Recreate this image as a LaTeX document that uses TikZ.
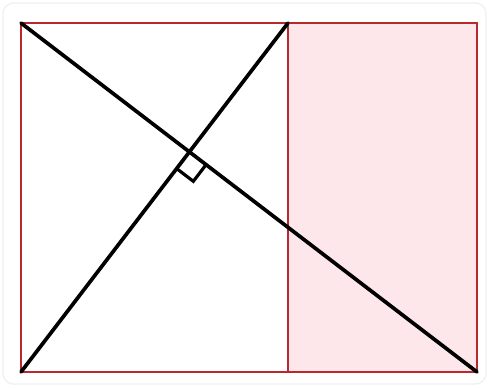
\documentclass[tikz,border=0pt]{standalone}
\usepackage{xcolor}
\usetikzlibrary{calc,intersections}
\definecolor{edgered}{HTML}{B8282E}
\definecolor{pinkfill}{HTML}{FDE7EA}

\begin{document}
\begin{tikzpicture}[
  x=0.02cm,y=0.02cm,
  frame/.style={draw=edgered,line width=1.3pt},
  diag/.style={draw=black,line width=2.1pt,line cap=round},
  anglemark/.style={draw=black,line width=1.8pt}
]
\useasboundingbox (0,0) rectangle (489,387);
\draw[gray!12,line width=0.8pt,rounded corners=6pt] (3,3) rectangle (486,384);

% corners of the rectangle and the split
\coordinate (tl) at (21,364);
\coordinate (tr) at (477,364);
\coordinate (br) at (477,15);
\coordinate (bl) at (21,15);
\coordinate (st) at (288,364);
\coordinate (sb) at (288,15);

\fill[pinkfill] (st) rectangle (br);
\draw[frame] (tl) rectangle (br);
\draw[frame] (st) -- (sb);

\draw[diag,name path=longdiag] (tl) -- (br);
\draw[diag,name path=shortdiag] (bl) -- (st);
\path[name intersections={of=longdiag and shortdiag,by=cross}];

% right angle mark
\coordinate (ma) at ($(cross)!0.42cm!(br)$);
\coordinate (mb) at ($(cross)!0.42cm!(bl)$);
\draw[anglemark] (ma) -- ($(ma)+(mb)-(cross)$) -- (mb);
\end{tikzpicture}
\end{document}
